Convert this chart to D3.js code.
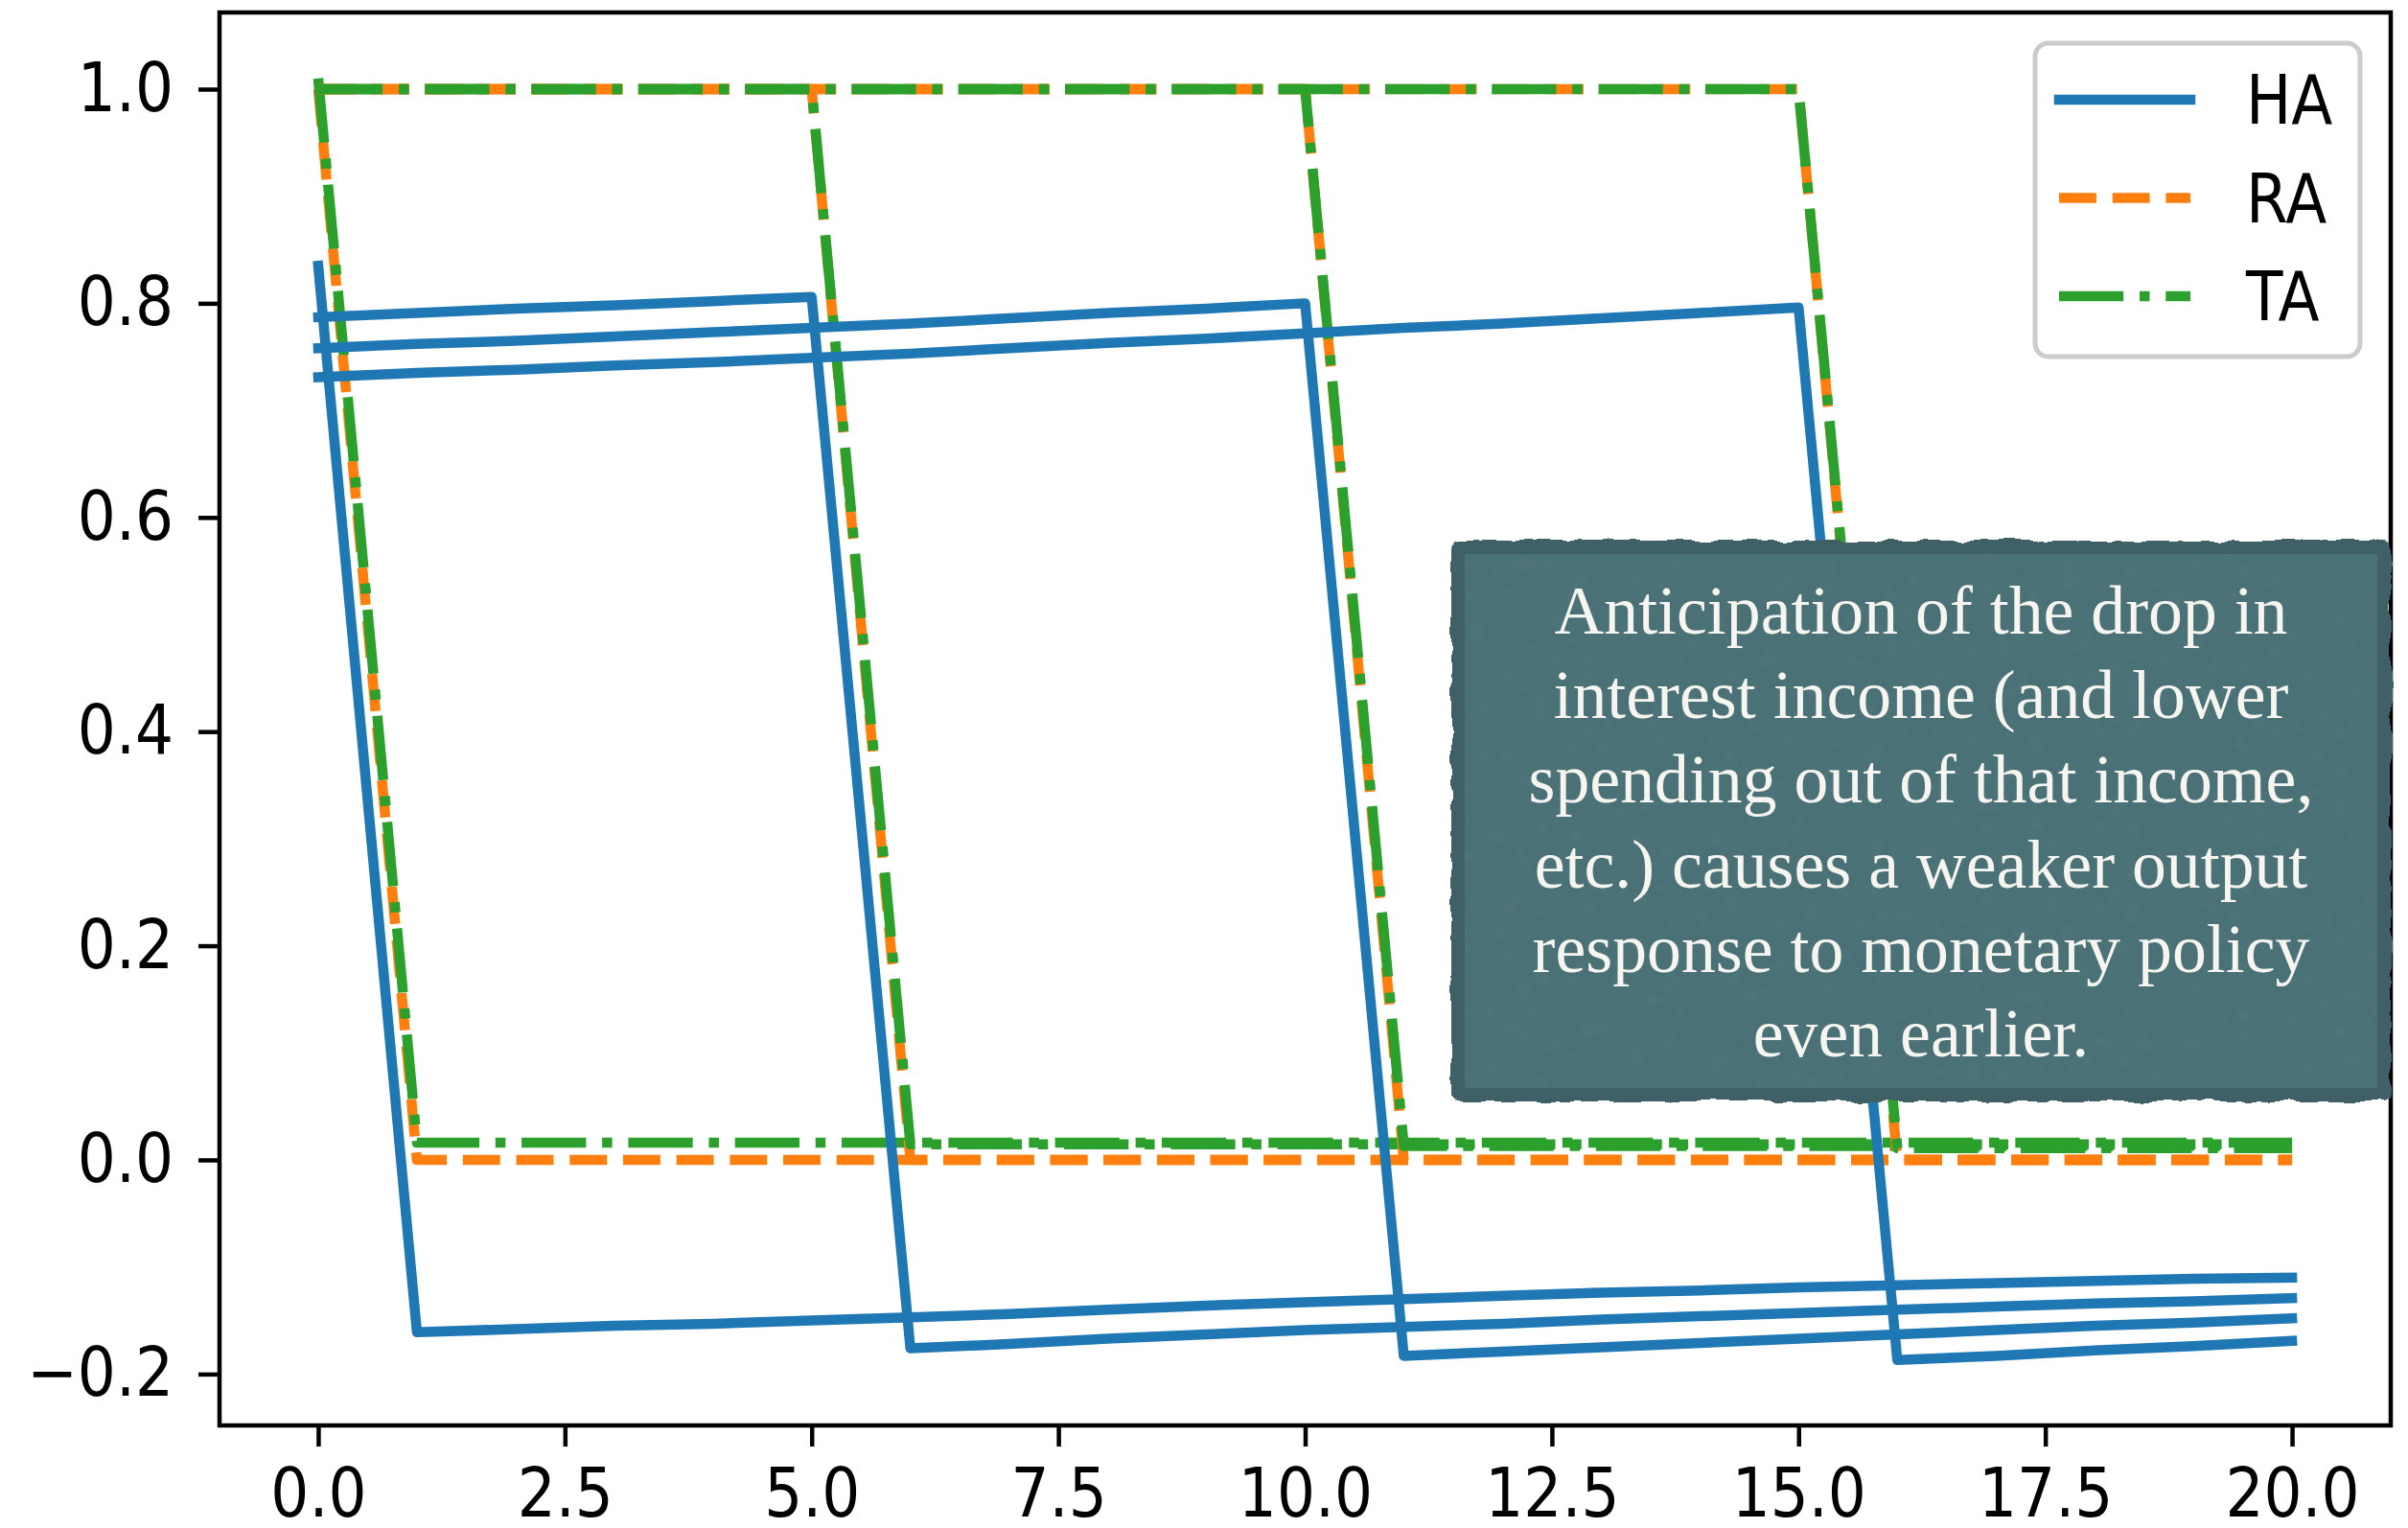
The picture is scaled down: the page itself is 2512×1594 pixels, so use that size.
<!DOCTYPE html>
<html>
<head>
<meta charset="utf-8">
<script src="https://cdn.jsdelivr.net/npm/d3@7"></script>
<style>
  html, body { margin: 0; padding: 0; background: #ffffff; }
  svg { display: block; }
</style>
</head>
<body>
<svg id="chart" width="2512" height="1594"></svg>
<script>
// Horizon (quarters after the announcement)
const horizon = [0, 1, 2, 3, 4, 5, 6, 7, 8, 9, 10, 11, 12, 13, 14, 15, 16, 17, 18, 19, 20];

// Date at which the rate shock hits, one path per date
const shockDates = [0, 5, 10, 15];

// Heterogeneous-agent (HA) output responses
const haShock0  = [0.835, -0.161, -0.158, -0.155, -0.153, -0.150, -0.147, -0.144, -0.140, -0.136, -0.133, -0.130, -0.127, -0.124, -0.122, -0.119, -0.117, -0.115, -0.113, -0.111, -0.110];
const haShock5  = [0.787, 0.791, 0.795, 0.798, 0.802, 0.806, -0.176, -0.172, -0.167, -0.163, -0.159, -0.156, -0.153, -0.149, -0.146, -0.143, -0.140, -0.137, -0.134, -0.132, -0.129];
const haShock10 = [0.758, 0.762, 0.765, 0.769, 0.773, 0.777, 0.781, 0.786, 0.791, 0.795, 0.800, -0.183, -0.179, -0.175, -0.171, -0.167, -0.163, -0.159, -0.155, -0.152, -0.148];
const haShock15 = [0.731, 0.735, 0.738, 0.742, 0.745, 0.749, 0.753, 0.758, 0.763, 0.767, 0.772, 0.777, 0.781, 0.786, 0.791, 0.796, -0.187, -0.183, -0.178, -0.174, -0.169];

// Representative-agent (RA) output responses
const raShock0  = [1, 0, 0, 0, 0, 0, 0, 0, 0, 0, 0, 0, 0, 0, 0, 0, 0, 0, 0, 0, 0];
const raShock5  = [1, 1, 1, 1, 1, 1, 0, 0, 0, 0, 0, 0, 0, 0, 0, 0, 0, 0, 0, 0, 0];
const raShock10 = [1, 1, 1, 1, 1, 1, 1, 1, 1, 1, 1, 0, 0, 0, 0, 0, 0, 0, 0, 0, 0];
const raShock15 = [1, 1, 1, 1, 1, 1, 1, 1, 1, 1, 1, 1, 1, 1, 1, 1, 0, 0, 0, 0, 0];

// Two-agent (TA) output responses
const taShock0  = [1.010, 0.016, 0.016, 0.016, 0.016, 0.016, 0.016, 0.016, 0.016, 0.016, 0.016, 0.016, 0.016, 0.016, 0.016, 0.016, 0.016, 0.016, 0.016, 0.016, 0.016];
const taShock5  = [1, 1, 1, 1, 1, 1, 0.0145, 0.0145, 0.0145, 0.0145, 0.0145, 0.0145, 0.0145, 0.0145, 0.0145, 0.0145, 0.0145, 0.0145, 0.0145, 0.0145, 0.0145];
const taShock10 = [1, 1, 1, 1, 1, 1, 1, 1, 1, 1, 1, 0.013, 0.013, 0.013, 0.013, 0.013, 0.013, 0.013, 0.013, 0.013, 0.013];
const taShock15 = [1, 1, 1, 1, 1, 1, 1, 1, 1, 1, 1, 1, 1, 1, 1, 1, 0.011, 0.011, 0.011, 0.011, 0.011];

// Axis ticks
const xTicks = [0, 2.5, 5, 7.5, 10, 12.5, 15, 17.5, 20];
const xTickLabels = ["0.0", "2.5", "5.0", "7.5", "10.0", "12.5", "15.0", "17.5", "20.0"];
const yTicks = [-0.2, 0, 0.2, 0.4, 0.6, 0.8, 1.0];
const yTickLabels = ["\u22120.2", "0.0", "0.2", "0.4", "0.6", "0.8", "1.0"];

// Legend entries
const legendLabels = ["HA", "RA", "TA"];

// Callout text
const noteLines = [
  "Anticipation of the drop in",
  "interest income (and lower",
  "spending out of that income,",
  "etc.) causes a weaker output",
  "response to monetary policy",
  "even earlier."
];

// ---------------------------------------------------------------------------
const W = 2512, H = 1594;
const frame = { left: 229, right: 2494, top: 13, bottom: 1487 };
const SANS = "'DejaVu Sans', sans-serif";
const FS = 63;          // tick / legend font size
const STRETCH = 1.12;   // vertical stretch of tick and legend glyphs
const LW = 10.5;        // line width of the responses

const styles = {
  HA: { color: "#1f77b4", dash: null, cap: "square" },
  RA: { color: "#ff7f0e", dash: "38.9,16.8", cap: "butt" },
  TA: { color: "#2ca02c", dash: "67.2,16.8,10.5,16.8", cap: "butt" }
};

const paths = {
  HA: [haShock0, haShock5, haShock10, haShock15],
  RA: [raShock0, raShock5, raShock10, raShock15],
  TA: [taShock0, taShock5, taShock10, taShock15]
};

const svg = d3.select("#chart");
svg.append("rect").attr("width", W).attr("height", H).attr("fill", "#ffffff");

const x = d3.scaleLinear().domain([-1, 21]).range([frame.left, frame.right]);
const y = d3.scaleLinear().domain([-0.248, 1.0716]).range([frame.bottom, frame.top]);

// Filters for the callout panel: mottled paper texture and ragged edge
const defs = svg.append("defs");
const tex = defs.append("filter").attr("id", "mottle")
  .attr("x", 0).attr("y", 0).attr("width", 1).attr("height", 1);
tex.append("feTurbulence").attr("type", "fractalNoise").attr("baseFrequency", 0.06)
  .attr("numOctaves", 4).attr("seed", 7).attr("result", "noise");
tex.append("feColorMatrix").attr("in", "noise").attr("type", "matrix")
  .attr("values", "0 0 0 0 0.10  0 0 0 0 0.20  0 0 0 0 0.22  0.9 0 0 0 -0.38")
  .attr("result", "spots");
tex.append("feComposite").attr("in", "spots").attr("in2", "SourceGraphic")
  .attr("operator", "in").attr("result", "spotsIn");
const texMerge = tex.append("feMerge");
texMerge.append("feMergeNode").attr("in", "SourceGraphic");
texMerge.append("feMergeNode").attr("in", "spotsIn");

const rough = defs.append("filter").attr("id", "ragged")
  .attr("x", -0.05).attr("y", -0.05).attr("width", 1.1).attr("height", 1.1);
rough.append("feTurbulence").attr("type", "fractalNoise").attr("baseFrequency", 0.045)
  .attr("numOctaves", 2).attr("seed", 3).attr("result", "warp");
rough.append("feDisplacementMap").attr("in", "SourceGraphic").attr("in2", "warp")
  .attr("scale", 9).attr("xChannelSelector", "R").attr("yChannelSelector", "G");

// Axes (ticks and labels from d3 axis generators)
const xAxis = d3.axisBottom(x).tickValues(xTicks)
  .tickFormat((d, i) => xTickLabels[i]).tickSize(22).tickPadding(0);
const yAxis = d3.axisLeft(y).tickValues(yTicks)
  .tickFormat((d, i) => yTickLabels[i]).tickSize(22).tickPadding(0);

const gx = svg.append("g").attr("transform", `translate(0,${frame.bottom})`).call(xAxis);
const gy = svg.append("g").attr("transform", `translate(${frame.left},0)`).call(yAxis);

[gx, gy].forEach(g => {
  g.select(".domain").remove();
  g.selectAll(".tick line").attr("stroke", "#000").attr("stroke-width", 4.5);
  g.selectAll(".tick text")
    .attr("fill", "#000")
    .style("font-family", SANS)
    .style("font-size", FS + "px");
});
gx.selectAll(".tick text")
  .attr("y", 45 / STRETCH).attr("dy", "0.71em")
  .attr("transform", `scale(1,${STRETCH})`);
gy.selectAll(".tick text")
  .attr("x", -48).attr("dy", "0.32em")
  .attr("transform", `scale(1,${STRETCH})`);

// Response paths: one HA / RA / TA triple per shock date
const line = d3.line().x((d, i) => x(horizon[i])).y(d => y(d));
const gLines = svg.append("g");
shockDates.forEach((s, k) => {
  ["HA", "RA", "TA"].forEach(key => {
    const st = styles[key];
    gLines.append("path")
      .datum(paths[key][k])
      .attr("d", line)
      .attr("fill", "none")
      .attr("stroke", st.color)
      .attr("stroke-width", LW)
      .attr("stroke-linejoin", "round")
      .attr("stroke-linecap", st.cap)
      .attr("stroke-dasharray", st.dash);
  });
});

// Frame (four spines)
svg.append("rect")
  .attr("x", frame.left).attr("y", frame.top)
  .attr("width", frame.right - frame.left).attr("height", frame.bottom - frame.top)
  .attr("fill", "none").attr("stroke", "#000").attr("stroke-width", 4.5);

// Legend
const leg = svg.append("g");
leg.append("rect")
  .attr("x", 2123).attr("y", 45).attr("width", 339).attr("height", 327).attr("rx", 14)
  .attr("fill", "#ffffff").attr("fill-opacity", 0.8)
  .attr("stroke", "#cccccc").attr("stroke-width", 5);
const legRowY = d3.scalePoint().domain(legendLabels).range([104, 309]);
legendLabels.forEach(lbl => {
  const st = styles[lbl];
  const yy = legRowY(lbl);
  leg.append("line")
    .attr("x1", 2148).attr("x2", 2285).attr("y1", yy).attr("y2", yy)
    .attr("stroke", st.color).attr("stroke-width", LW)
    .attr("stroke-linecap", st.cap)
    .attr("stroke-dasharray", st.dash);
  leg.append("text")
    .attr("transform", `translate(2343,${yy}) scale(1,${STRETCH})`)
    .attr("dy", "0.36em")
    .style("font-family", SANS).style("font-size", FS + "px")
    .attr("fill", "#000")
    .text(lbl);
});

// Callout panel
const box = { x: 1514, y: 564, w: 980, h: 585 };
const note = svg.append("g");
note.append("rect")
  .attr("x", box.x).attr("y", box.y).attr("width", box.w).attr("height", box.h).attr("rx", 8)
  .attr("fill", "#3f6067").attr("filter", "url(#ragged)");
note.append("rect")
  .attr("x", box.x + 14).attr("y", box.y + 14).attr("width", box.w - 28).attr("height", box.h - 28)
  .attr("fill", "#4a7176").attr("filter", "url(#mottle)");

const cx = box.x + box.w / 2;
const gText = note.append("g");
noteLines.forEach((t, i) => {
  gText.append("text")
    .attr("x", cx).attr("y", 661 + i * 88.2)
    .attr("text-anchor", "middle")
    .style("font-family", "'Liberation Serif', 'DejaVu Serif', serif")
    .style("font-size", "71px")
    .attr("fill", "#f7f5ef")
    .text(t);
});
// condense the callout text so its widest line spans the panel as laid out
let widest = 0;
gText.selectAll("text").each(function () { widest = Math.max(widest, this.getComputedTextLength()); });
const sx = widest > 0 ? 819 / widest : 1;
gText.attr("transform", `translate(${cx},0) scale(${sx},1) translate(${-cx},0)`);
</script>
</body>
</html>
